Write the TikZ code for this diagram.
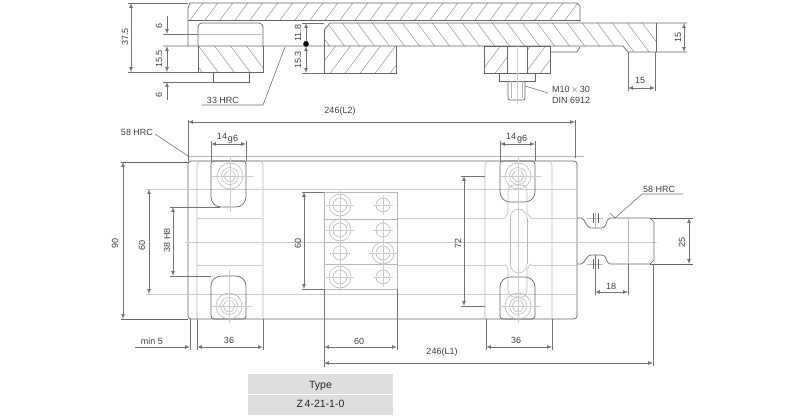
\documentclass[tikz,border=0pt]{standalone}
\usepackage{fontspec}
\setmainfont{Liberation Sans}
\usetikzlibrary{arrows}
\tikzset{
	% Outlines of the parts
	part/.style={draw=black!60,line width=0.7pt},
	thin part/.style={draw=black!28,line width=0.6pt},
	centre/.style={draw=black!20,line width=0.6pt},
	hatchline/.style={draw=black!50,line width=0.4pt},
	% Dimension lines
	ext/.style={draw=black!55,line width=0.6pt},
	dim/.style={draw=black!55,line width=0.7pt,latex-latex},
	lab/.style={text=black!75,font=\fontsize{9}{10}\selectfont,inner sep=0pt},
	vlab/.style={lab,rotate=90}}
% Hatched areas: the path is given as the last argument
\newcommand{\hatchup}[2]{
	\begin{scope}
		\clip #2;
		\foreach \hx in {100,#1,...,720}
			\draw[hatchline] (\hx,80) -- ++(60,-80);
	\end{scope}}
\newcommand{\hatchdown}[2]{
	\begin{scope}
		\clip #2;
		\foreach \hx in {100,#1,...,720}
			\draw[hatchline] (\hx,0) -- ++(60,80);
	\end{scope}}
% Socket head screw seen from above
\newcommand{\screwhead}[2]{
	\draw[thin part] (#1,#2) circle[radius=13] (#1,#2) circle[radius=8.5];
	\draw[thin part] (#1,#2) ++(0:6) -- ++(120:6) -- ++(180:6) -- ++(240:6) -- ++(300:6) -- ++(0:6) -- cycle;
	\draw[centre] (#1-19,#2) -- (#1+23,#2);}
% Slots: small radius on the open side, large radius on the closed side
\newcommand{\slotdown}[3]{
	\draw[part] (#1+17,#2) [rounded corners=3pt] -- (#1+35,#2) [rounded corners=10pt] -- (#1+35,#3) -- (#1,#3) [rounded corners=3pt] -- (#1,#2) -- cycle;}
\newcommand{\slotup}[3]{
	\draw[part] (#1+17,#3) [rounded corners=3pt] -- (#1+35,#3) [rounded corners=10pt] -- (#1+35,#2) -- (#1,#2) [rounded corners=3pt] -- (#1,#3) -- cycle;}
\begin{document}
\begin{tikzpicture}[x=1pt,y=-1pt]
	\useasboundingbox (0,0) rectangle (800,418);
	% Section: top plate
	\hatchup{115}{(190,3) -- (577,3) -- (580,6) -- (580,20) -- (188,20) -- (188,8) -- cycle}
	\draw[part] (188,46) -- (188,8) -- (190,3) -- (577,3) -- (580,6) -- (580,22);
	\draw[part] (188,20) -- (580,20);
	% Section: slide plate
	\hatchdown{115}{(330,23) -- (656,23) -- (656,52) -- (628,52) -- (623,46) -- (324,46) -- (324,30) -- cycle}
	\draw[part] (324,30) -- (330,23) -- (687,23);
	\draw[part] (163,46) -- (623,46) -- (628,52) -- (687,52);
	\draw[part] (656,23) -- (656,52);
	\draw[part] (550,52) -- (577,52) -- (580,47);
	% Section: block in the middle
	\hatchup{115}{(324,46) rectangle (396,73)}
	\draw[part] (324,30) -- (324,73) -- (396,73) -- (396,46);
	% Section: left block with foot
	\hatchdown{116}{(198,46) rectangle (263,72)}
	\draw[part,rounded corners=4pt] (198,46) -- (198,23) -- (263,23) -- (263,46);
	\draw[part] (198,46) -- (198,72) -- (263,72) -- (263,46);
	\draw[thin part] (198,34) -- (263,34);
	\draw[part] (213,72) -- (213,82) -- (249,82) -- (249,72);
	% Section: clamp with screw
	\hatchup{115}{(484,46) rectangle (507,73)}
	\hatchup{115}{(527,46) rectangle (550,73)}
	\draw[part] (484,46) rectangle (550,73);
	\draw[part] (507,46) -- (507,73) (527,46) -- (527,73);
	\draw[part] (499,73) -- (499,81) -- (535,81) -- (535,73);
	\draw[part,rounded corners=2pt] (508,81) -- (508,100) -- (525,100) -- (525,81);
	\draw[thin part] (511,81) -- (511,98) (522,81) -- (522,98);
	\draw[centre] (517,46) -- (517,104);
	% Section: dimensions
	\draw[ext] (128,3) -- (188,3) (128,72) -- (198,72);
	\draw[dim] (131,3) -- (131,72);
	\node[vlab] (sec h) at (125,37) {37.5};
	\draw[ext] (163,34) -- (198,34) (163,82) -- (213,82);
	\draw[dim,latex-] (167,34) -- (167,16);
	\draw[dim] (167,46) -- (167,72);
	\draw[dim,latex-] (167,82) -- (167,100);
	\node[vlab] (sec a) at (159,26) {6};
	\node[vlab] (sec b) at (159,59) {15.5};
	\node[vlab] (sec c) at (159,95) {6};
	\draw[ext] (302,23) -- (324,23) (302,73) -- (324,73);
	\draw[dim] (306,23) -- (306,46);
	\draw[dim] (306,46) -- (306,73);
	\fill[black] (306,44) circle[radius=2.8];
	\node[vlab] (sec d) at (298,33) {11.8};
	\node[vlab] (sec e) at (298,60) {15.3};
	\draw[dim] (684,23) -- (684,52);
	\node[vlab] (sec f) at (678,37) {15};
	\draw[ext] (628,52) -- (628,91) (655,52) -- (655,91);
	\draw[dim] (628,88) -- (655,88);
	\node[lab] (sec g) at (640,80) {15};
	% Section: leaders
	\node[lab] (hrc mid) at (223,100) {33 HRC};
	\draw[ext] (202,105) -- (263,105) -- (285,47);
	\node[lab,anchor=west] (screw) at (552,90) {M10\,$\times$\,30};
	\node[lab,anchor=west] (din) at (552,100) {DIN 6912};
	\draw[ext] (525,86) -- (548,93);
	% Plan: body
	\draw[part,rounded corners=3pt] (188,161) -- (188,319) -- (577,319) -- (577,161) -- cycle;
	\draw[part] (121,162) -- (188,162) (121,319) -- (188,319);
	\draw[thin part] (188,156) -- (584,156);
	\draw[thin part,rounded corners=4pt] (197,319) -- (197,161) -- (263,161) -- (263,319);
	\draw[thin part,rounded corners=4pt] (485,319) -- (485,161) -- (552,161) -- (552,319);
	% Plan: long lines
	\draw[centre] (185,242) -- (657,242);
	\draw[centre] (146,189) -- (577,189);
	\draw[centre] (146,294) -- (577,294);
	\draw[centre] (197,218) -- (263,218) (397,218) -- (505,218) (531,218) -- (577,218);
	\draw[centre] (197,265) -- (263,265) (397,265) -- (505,265) (531,265) -- (577,265);
	% Plan: slots
	\slotdown{211}{161}{207}
	\slotup{211}{276}{319}
	\slotdown{500}{161}{202}
	\slotup{500}{277}{319}
	\screwhead{230}{176}
	\screwhead{229}{306}
	\screwhead{518}{176}
	\screwhead{518}{306}
	\draw[centre] (230,156) -- (230,212) (229,270) -- (229,323);
	% Plan: neck between the right screws
	\draw[centre] (518,156) -- (518,323);
	\draw[thin part] (510,218) -- (510,264) (527,218) -- (527,264);
	\draw[thin part] (505,218) -- (508,213) -- (508,192) .. controls (508,188) and (511,185) .. (514,185)
		-- (522,185) .. controls (525,185) and (527,188) .. (527,192) -- (527,213) -- (531,218);
	\draw[thin part] (505,264) -- (508,269) -- (508,290) .. controls (508,294) and (511,297) .. (514,297)
		-- (522,297) .. controls (525,297) and (527,294) .. (527,290) -- (527,269) -- (531,264);
	\draw[thin part] (510,218) .. controls (511,206) and (526,206) .. (527,218);
	\draw[thin part] (510,264) .. controls (511,276) and (526,276) .. (527,264);
	% Plan: plate with holes
	\draw[thin part] (324,192) rectangle (397,289);
	\foreach \py in {219,242,264} \draw[thin part] (324,\py) -- (397,\py);
	\foreach \hy in {205,230,277} {
		\draw[thin part] (340,\hy) circle[radius=11] (340,\hy) circle[radius=7];
		\draw[centre] (326,\hy) -- (354,\hy) (340,\hy-14) -- (340,\hy+14);
		\draw[thin part] (383,\hy) circle[radius=7];
		\draw[centre] (373,\hy) -- (393,\hy) (383,\hy-10) -- (383,\hy+10);
	}
	\draw[thin part] (340,253) circle[radius=7];
	\draw[centre] (330,253) -- (350,253) (340,243) -- (340,263);
	\draw[thin part] (383,253) circle[radius=11] (383,253) circle[radius=7];
	\draw[centre] (369,253) -- (397,253) (383,239) -- (383,267);
	% Plan: shank on the right
	\draw[part] (577,218) -- (581,218) .. controls (586,219) and (585,228) .. (592,228)
		-- (601,228) .. controls (608,228) and (605,219) .. (610,218) -- (650,218)
		-- (654,222) -- (654,260) -- (650,264) -- (610,264)
		.. controls (605,263) and (608,255) .. (601,255) -- (592,255)
		.. controls (585,255) and (586,263) .. (581,264) -- (577,264);
	\draw[part] (650,218) -- (693,218) (650,264) -- (693,264);
	\foreach \my in {218,264} {
		\draw[thin part] (587,\my) -- (603,\my);
		\draw[part] (593,\my-5) -- (593,\my+5) (598,\my-5) -- (598,\my+5);
	}
	\draw[thin part] (595,213) -- (595,228);
	\draw[thin part] (628,218) -- (628,264);
	\draw[ext] (595,255) -- (595,295) (628,264) -- (628,295);
	\draw[dim] (595,292) -- (628,292);
	\node[lab] (shank) at (611,286) {18};
	\draw[dim] (689,218) -- (689,264);
	\node[vlab] (shank h) at (682,242) {25};
	% Plan: dimensions, left
	\draw[ext] (188,120) -- (188,161) (575,120) -- (575,158);
	\draw[dim] (188,122) -- (575,122);
	\node[lab] (overall) at (340,111) {246(L2)};
	\draw[dim] (123,162) -- (123,319);
	\node[vlab] (height) at (115,243) {90};
	\draw[dim] (149,189) -- (149,294);
	\node[vlab] (pitch) at (142,245) {60};
	\draw[ext] (170,207) -- (220,207) (170,276) -- (211,276);
	\draw[dim] (173,207) -- (173,276);
	\node[vlab] (groove) at (167,240) {38 H8};
	\draw[ext] (211,141) -- (211,161) (246,141) -- (246,161);
	\draw[dim] (211,144) -- (246,144);
	\node[lab] (fit l) at (222,136) {14};
	\node[lab] (g l) at (233,139) {g6};
	\draw[ext] (500,141) -- (500,161) (535,141) -- (535,161);
	\draw[dim] (500,144) -- (535,144);
	\node[lab] (fit r) at (511,136) {14};
	\node[lab] (g r) at (522,139) {g6};
	\draw[ext] (302,192) -- (324,192) (302,289) -- (324,289);
	\draw[dim] (304,192) -- (304,289);
	\node[vlab] (holes) at (298,243) {60};
	\draw[ext] (461,176) -- (485,176) (461,306) -- (485,306);
	\draw[dim] (464,176) -- (464,306);
	\node[vlab] (screws) at (458,243) {72};
	% Plan: dimensions, below
	\draw[ext] (190,319) -- (190,350) (197,319) -- (197,350) (263,319) -- (263,350);
	\draw[ext] (324,289) -- (324,367) (397,289) -- (397,350);
	\draw[ext] (486,319) -- (486,350) (552,319) -- (552,350);
	\draw[ext] (653,264) -- (653,366);
	\draw[dim,-latex] (135,347) -- (190,347);
	\draw[dim] (197,347) -- (263,347);
	\draw[dim] (324,347) -- (397,347);
	\draw[dim] (486,347) -- (552,347);
	\draw[dim] (324,363) -- (653,363);
	\node[lab] (minimum) at (152,341) {min 5};
	\node[lab] (width l) at (229,340) {36};
	\node[lab] (plate) at (359,341) {60};
	\node[lab] (width r) at (516,340) {36};
	\node[lab] (length) at (442,352) {246(L1)};
	% Plan: hardness leaders
	\node[lab] (hrc l) at (137,132) {58 HRC};
	\draw[ext] (155,134) -- (188,156);
	\node[lab] (hrc r) at (659,189) {58 HRC};
	\draw[ext] (683,194) -- (642,194) -- (615,218) -- (610,213);
	% Type table
	\fill[black!13] (248,374) rectangle (393,415);
	\draw[white,line width=0.8pt] (248,394) -- (393,394);
	\node[text=black!85,font=\fontsize{10.5}{12}\selectfont] (type) at (320.5,386) {Type};
	\node[text=black!85,font=\fontsize{10.5}{12}\selectfont] (type no) at (320.5,404) {Z\,4-21-1-0};
\end{tikzpicture}
\end{document}
